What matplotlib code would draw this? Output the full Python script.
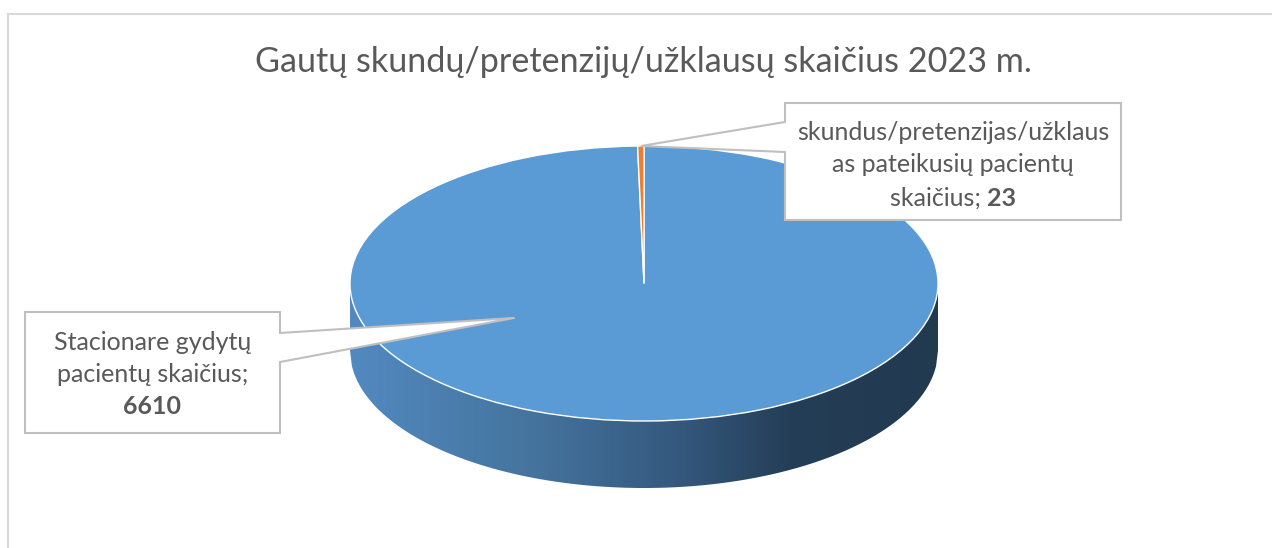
import numpy as np
import matplotlib
matplotlib.use('Agg')
import matplotlib.pyplot as plt
from matplotlib.patches import Polygon
from matplotlib.colors import LinearSegmentedColormap

plt.rcParams['font.family'] = ['Lato', 'DejaVu Sans']

# data
title = 'Gautų skundų/pretenzijų/užklausų skaičius 2023 m.'
values = [6610, 23]
colors = ['#5b9bd5', '#ed7d31']
label_lines = [['Stacionare gydytų', 'pacientų skaičius;'],
               ['skundus/pretenzijas/užklaus', 'as pateikusių pacientų', 'skaičius;']]

W, H = 1272, 548
fig = plt.figure(figsize=(W / 100, H / 100), dpi=100)

# pie top face spans x 350..938, y 146..421 px, side goes down to 488 px
depth = (488 - 421) / ((421 - 146) / 2)
ax = fig.add_axes([350 / W, (H - 488) / H, 588 / W, 342 / H])
ax.pie(values, colors=colors, startangle=90, counterclock=False, radius=1,
       wedgeprops=dict(edgecolor='white', linewidth=1.0))
ax.set_aspect('auto')
ax.set_xlim(-1, 1)
ax.set_ylim(-1 - depth, 1)
ax.axis('off')

# side of the 3d pie, gradient fill
xs = np.linspace(-1, 1, 300)
top = -np.sqrt(1 - xs ** 2)
side = np.concatenate([np.column_stack([xs, top]),
                       np.column_stack([xs[::-1], top[::-1] - depth])])
side_patch = Polygon(side, closed=True, facecolor='none', edgecolor='none')
ax.add_patch(side_patch)
cmap = LinearSegmentedColormap.from_list('side', [(0, '#5289c0'), (0.3, '#45759f'),
                                                  (0.55, '#35597f'), (0.75, '#243e57'),
                                                  (1, '#223a50')])
grad = np.linspace(0, 1, 256).reshape(1, -1)
im = ax.imshow(grad, cmap=cmap, extent=[-1, 1, -1 - depth, 0], aspect='auto', zorder=0)
im.set_clip_path(side_patch)

# overlay in pixel coordinates
ov = fig.add_axes([0, 0, 1, 1], zorder=5)
ov.set_xlim(0, W)
ov.set_ylim(H, 0)
ov.axis('off')
ov.patch.set_alpha(0)

# chart frame
ov.plot([7.5, W], [13.5, 13.5], color='#d9d9d9', lw=1.5)
ov.plot([7.5, 7.5], [13.5, H], color='#d9d9d9', lw=1.5)

ov.text(643, 62, title, ha='center', va='center', fontsize=24.6,
        color='#595959', fontweight='normal')

fig.canvas.draw()
renderer = fig.canvas.get_renderer()


def to_px(x, y):
    return ov.transData.inverted().transform(ax.transData.transform((x, y)))


def draw_line(cx, cy, parts, size=18):
    txts = []
    for s, w in parts:
        t = ov.text(0, cy, s, ha='left', va='center', fontsize=size,
                    color='#595959', fontweight=w)
        txts.append(t)
    widths = [t.get_window_extent(renderer).width for t in txts]
    x = cx - sum(widths) / 2
    for t, w in zip(txts, widths):
        t.set_x(x)
        x += w


# callout for the small slice (pointer to the slice edge at the top)
ang = np.deg2rad(90 + 0.5 * values[1] / sum(values) * 360)
tx, ty = to_px(np.cos(ang), np.sin(ang))
x0, x1, y0, y1 = 785, 1121, 103, 220
box1 = [(x0, y0), (x1, y0), (x1, y1), (x0, y1), (x0, 152), (tx, ty), (x0, 122)]
ov.add_patch(Polygon(box1, closed=True, facecolor='white', edgecolor='#bfbfbf', lw=1.5))
cx = (x0 + x1) / 2
draw_line(cx, 132, [(label_lines[1][0], 'normal')])
draw_line(cx, 165, [(label_lines[1][1], 'normal')])
draw_line(cx, 198, [(label_lines[1][2] + ' ', 'normal'), (str(values[1]), 'bold')])

# callout for the large slice (pointer into the pie face)
tx, ty = to_px(-0.44, -0.25)
x0, x1, y0, y1 = 25, 280, 312, 433
box2 = [(x0, y0), (x1, y0), (x1, 333), (tx, ty), (x1, 362), (x1, y1), (x0, y1)]
ov.add_patch(Polygon(box2, closed=True, facecolor='white', edgecolor='#bfbfbf', lw=1.5))
cx = (x0 + x1) / 2
draw_line(cx, 342, [(label_lines[0][0], 'normal')])
draw_line(cx, 375, [(label_lines[0][1], 'normal')])
draw_line(cx, 407, [(str(values[0]), 'bold')])

fig.savefig('out.png', dpi=100)
